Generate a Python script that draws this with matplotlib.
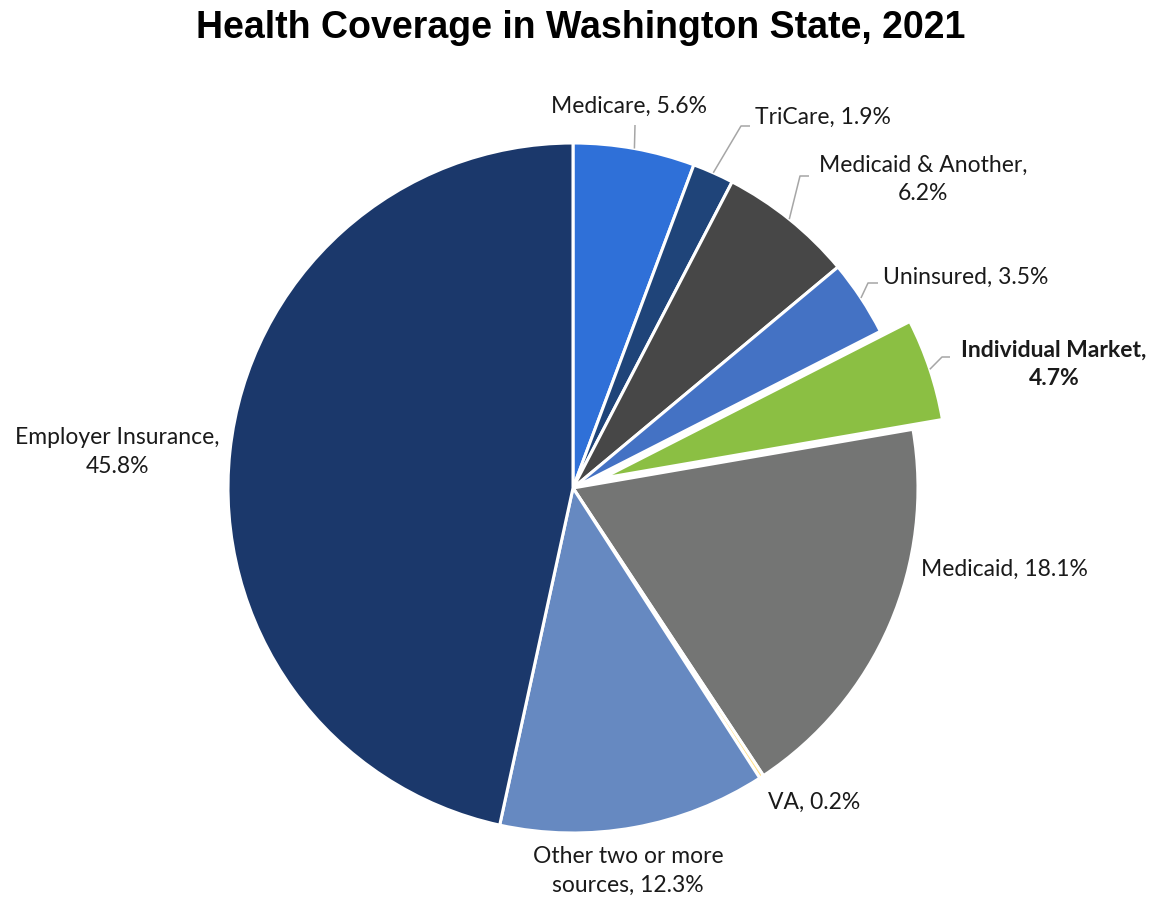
import numpy as np
import matplotlib
matplotlib.use("Agg")
import matplotlib.pyplot as plt

W, H = 1159, 898

# coverage categories, clockwise from 12 o'clock
categories = ["Medicare", "TriCare", "Medicaid & Another", "Uninsured",
              "Individual Market", "Medicaid", "VA",
              "Other two or more sources", "Employer Insurance"]
shares = [5.6, 1.9, 6.2, 3.5, 4.7, 18.1, 0.2, 12.3, 45.8]
colors = ["#2F70D8", "#1F4479", "#474747", "#4472C4", "#8BBF43",
          "#747574", "#FFE08A", "#6689C1", "#1B386B"]
explode = [0, 0, 0, 0, 0.09, 0, 0, 0, 0]

# label text as printed (line breaks included)
label_text = ["Medicare, 5.6%", "TriCare, 1.9%", "Medicaid & Another,\n6.2%",
              "Uninsured, 3.5%", "Individual Market,\n4.7%", "Medicaid, 18.1%",
              "VA, 0.2%", "Other two or more\nsources, 12.3%",
              "Employer Insurance,\n45.8%"]

fig = plt.figure(figsize=(W / 100, H / 100), dpi=100)
ax = fig.add_axes([0, 0, 1, 1])


def py(y):
    return H - y


cx, cy, R = 573, py(488), 345
# pie() takes explode as an absolute offset, so scale by the radius
wedges, _ = ax.pie(shares, colors=colors, explode=[e * R for e in explode],
                   startangle=90, counterclock=False, center=(cx, cy), radius=R,
                   wedgeprops=dict(edgecolor="white", linewidth=2.2))
# pie() resets the limits, so put the pixel frame back afterwards
ax.set_xlim(0, W)
ax.set_ylim(0, H)
ax.set_aspect("equal")
ax.axis("off")

fig.suptitle("Health Coverage in Washington State, 2021", x=581 / W, y=1 - 28 / H,
             fontsize=27, fontweight="bold", family="Liberation Sans", va="center")

font = "Lato"
txt_col = "#1a1a1a"
line_col = "#A6A6A6"

# text anchor (x, y pixel) and horizontal alignment
label_pos = {
    0: (629, 106, "center"),
    1: (755, 117, "left"),
    2: (923, 179, "center"),
    3: (883, 277, "left"),
    4: (1054, 364, "center"),
    5: (921, 569, "left"),
    6: (768, 802, "left"),
    7: (628, 871, "center"),
    8: (117, 452, "center"),
}
# leader lines: (elbow x, elbow y, horizontal end x)
leaders = {
    0: (635, 125, None),
    1: (741, 126, 750),
    2: (800, 176, 809),
    3: (868, 283, 878),
    4: (942, 357, 950),
}

for i, (x, y, ha) in label_pos.items():
    ax.text(x, py(y), label_text[i], ha=ha, va="center", multialignment="center",
            fontsize=16.5, family=font, color=txt_col,
            fontweight="bold" if categories[i] == "Individual Market" else "normal",
            linespacing=1.42)

for i, (ex, ey, hx) in leaders.items():
    w = wedges[i]
    mid = np.deg2rad((w.theta1 + w.theta2) / 2)
    wx, wy = w.center[0] + w.r * np.cos(mid), w.center[1] + w.r * np.sin(mid)
    xs, ys = [wx, ex], [wy, py(ey)]
    if hx is not None:
        xs.append(hx)
        ys.append(py(ey))
    ax.plot(xs, ys, color=line_col, lw=1.1, solid_capstyle="butt")

fig.savefig("out.png", dpi=100, facecolor="white")
